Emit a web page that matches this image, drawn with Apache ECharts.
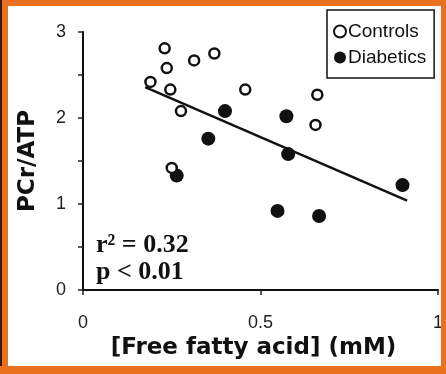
<!DOCTYPE html>
<html><head><meta charset="utf-8">
<script src="https://cdn.jsdelivr.net/npm/echarts@6/dist/echarts.min.js"></script>
<style>
html,body{margin:0;padding:0;background:#fff;}
#wrap{position:relative;width:446px;height:374px;overflow:hidden;}
#chart{position:absolute;left:0;top:0;width:446px;height:374px;}
.b{position:absolute;background:#e8701e;z-index:5;}
</style></head>
<body>
<div id="wrap">
<div id="chart"></div>
<div class="b" style="left:0;top:0;width:446px;height:6px;"></div>
<div class="b" style="left:0;top:0;width:8px;height:374px;"></div>
<div class="b" style="left:0;top:0;width:2px;height:374px;background:#3a1a0c;"></div>
<div class="b" style="left:441px;top:0;width:5px;height:374px;"></div>
<div class="b" style="left:0;top:366px;width:446px;height:8px;"></div>
</div>
<script>
// Data
const controlsX = [0.19, 0.23, 0.236, 0.246, 0.276, 0.313, 0.37, 0.457, 0.66, 0.655, 0.25];
const controlsY = [2.42, 2.81, 2.58, 2.33, 2.08, 2.67, 2.75, 2.33, 2.27, 1.92, 1.42];
const diabeticsX = [0.264, 0.353, 0.40, 0.573, 0.578, 0.548, 0.665, 0.90];
const diabeticsY = [1.33, 1.76, 2.08, 2.02, 1.58, 0.92, 0.86, 1.22];
const trendX = [0.175, 0.913];
const trendY = [2.36, 1.04];
const xTicks = [0, 0.5, 1];
const yTicks = [0, 1, 2, 3];
const statsLines = ['r\u00B2 = 0.32', 'p < 0.01'];

const zip = (a, b) => a.map((v, i) => [v, b[i]]);

const chart = echarts.init(document.getElementById('chart'), null, {renderer: 'canvas'});
chart.setOption({
  backgroundColor: '#fff',
  animation: false,
  grid: {left: 83, right: 3, top: 32, bottom: 84},
  xAxis: {
    type: 'value', min: xTicks[0], max: xTicks[xTicks.length - 1], interval: 0.5,
    name: '[Free fatty acid] (mM)', nameLocation: 'middle', nameGap: 44,
    nameTextStyle: {fontFamily: 'DejaVu Sans', fontWeight: 'bold', fontSize: 23, color: '#111', padding: [0, 14, 0, 0]},
    axisLine: {lineStyle: {color: '#111', width: 2}},
    axisTick: {show: true, length: 5, lineStyle: {color: '#222', width: 1.5}},
    axisLabel: {margin: 24, fontFamily: 'Liberation Sans', fontSize: 18, color: '#222',
      formatter: v => xTicks.includes(v) ? String(v) : ''},
    splitLine: {show: false}
  },
  yAxis: {
    type: 'value', min: yTicks[0], max: yTicks[yTicks.length - 1], interval: 0.5,
    name: 'PCr/ATP', nameLocation: 'middle', nameGap: 43,
    nameTextStyle: {fontFamily: 'DejaVu Sans', fontWeight: 'bold', fontSize: 23, color: '#111'},
    axisLine: {show: true, lineStyle: {color: '#111', width: 2}},
    axisTick: {show: true, length: 5, lineStyle: {color: '#222', width: 1.5}},
    axisLabel: {margin: 17, fontFamily: 'Liberation Sans', fontSize: 18, color: '#222',
      formatter: v => yTicks.includes(v) ? String(v) : ''},
    splitLine: {show: false}
  },
  legend: {
    orient: 'vertical', left: 327, top: 10, width: 110,
    padding: [12, 8, 11, 6], itemGap: 7, itemWidth: 12, itemHeight: 12,
    borderColor: '#111', borderWidth: 1.5, borderRadius: 0,
    textStyle: {fontFamily: 'Liberation Sans', fontSize: 19, color: '#111', padding: [0, 0, 0, -3]},
    data: [
      {name: 'Controls', icon: 'circle', itemStyle: {color: '#fff', borderColor: '#111', borderWidth: 2}},
      {name: 'Diabetics', icon: 'circle', itemStyle: {color: '#111', borderWidth: 0}}
    ]
  },
  series: [
    {type: 'line', name: 'trend', data: zip(trendX, trendY), symbol: 'none',
      lineStyle: {color: '#111', width: 2.5}, z: 1},
    {type: 'scatter', name: 'Controls', data: zip(controlsX, controlsY), symbol: 'circle', symbolSize: 10,
      itemStyle: {color: '#fff', borderColor: '#111', borderWidth: 2.5, opacity: 1}, z: 3},
    {type: 'scatter', name: 'Diabetics', data: zip(diabeticsX, diabeticsY), symbol: 'circle', symbolSize: 14,
      itemStyle: {color: '#111', opacity: 1}, z: 2}
  ],
  graphic: statsLines.map((t, i) => ({
    type: 'text', left: 96, top: 232 + i * 27, z: 10,
    style: {text: t, font: 'bold 26px "Liberation Serif", "Times New Roman", serif', fill: '#111'}
  }))
});
</script>
</body></html>
